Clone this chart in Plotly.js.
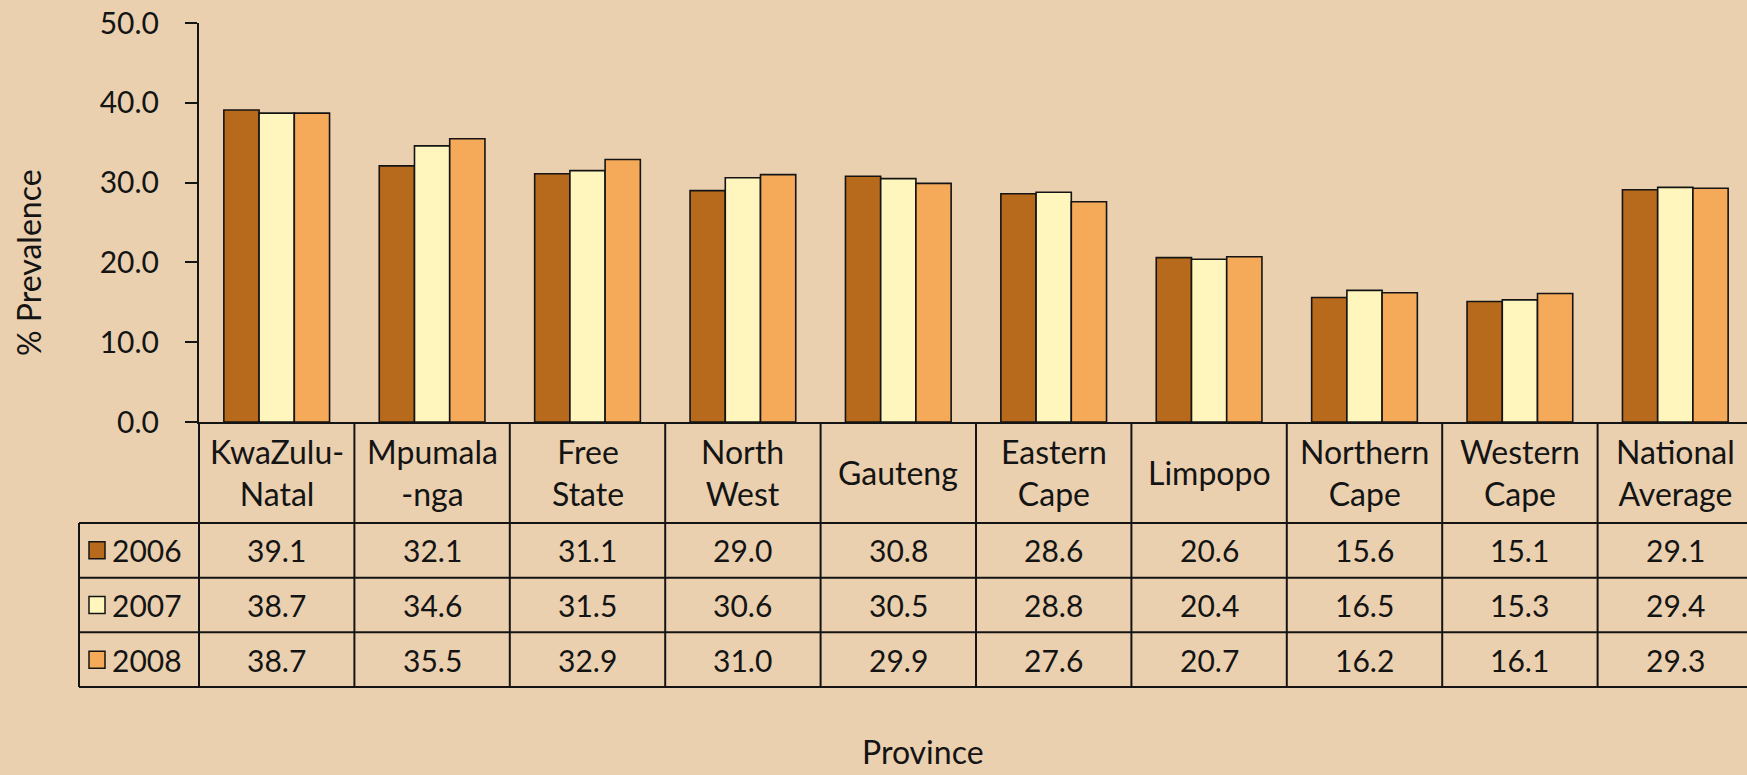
<!DOCTYPE html>
<html>
<head>
<meta charset="utf-8">
<script src="https://cdn.plot.ly/plotly-3.0.1.min.js"></script>
<style>
  html, body { margin: 0; padding: 0; overflow: hidden; background: #EAD0AF; }
  #chart { width: 1760px; height: 775px; }
</style>
</head>
<body>
<div id="chart"></div>
<script>
// ---- data ----
var categories = ["KwaZulu-Natal", "Mpumalanga", "Free State", "North West", "Gauteng",
                  "Eastern Cape", "Limpopo", "Northern Cape", "Western Cape", "National Average"];
var headerLabels = ["KwaZulu-<br>Natal", "Mpumala<br>-nga", "Free<br>State", "North<br>West", "Gauteng",
                    "Eastern<br>Cape", "Limpopo", "Northern<br>Cape", "Western<br>Cape", "National<br>Average"];
var seriesNames = ["2006", "2007", "2008"];
var values2006 = [39.1, 32.1, 31.1, 29.0, 30.8, 28.6, 20.6, 15.6, 15.1, 29.1];
var values2007 = [38.7, 34.6, 31.5, 30.6, 30.5, 28.8, 20.4, 16.5, 15.3, 29.4];
var values2008 = [38.7, 35.5, 32.9, 31.0, 29.9, 27.6, 20.7, 16.2, 16.1, 29.3];
var yTickVals = [0, 10, 20, 30, 40, 50];
var yTitle = "% Prevalence";
var xTitle = "Province";

// ---- styling ----
var seriesColors = ["#B76A1C", "#FFF6BD", "#F5AA5A"];
var bg = "#EAD0AF";
var ink = "#141414";
var fontFamily = "'Gill Sans', 'Gill Sans MT', Lato, sans-serif";
var tickFs = 30, headFs = 32, valFs = 30, titleFs = 32;

var allSeries = [values2006, values2007, values2008];
var N = categories.length;

// layout geometry (pixels)
var W = 1760, H = 775;
var mL = 199, mR = 7, mT = 23, mB = 353;
var plotH = H - mT - mB;
function py(pixY) { return ((H - mB) - pixY) / plotH; }      // pixel y -> paper y
function px(pixX) { return (pixX - mL) / (W - mL - mR); }     // pixel x -> paper x

var rowLines = [523, 577.7, 632.3, 687];
var headerCenter = (H - mB + rowLines[0]) / 2;

var traces = allSeries.map(function (vals, i) {
  return {
    type: "bar",
    name: seriesNames[i],
    x: categories,
    y: vals,
    marker: { color: seriesColors[i], line: { color: ink, width: 1.6 } },
    hoverinfo: "skip",
    showlegend: false
  };
});

var shapes = [];
var lineStyle = { color: ink, width: 2 };
for (var k = 0; k <= N; k++) {
  shapes.push({ type: "line", xref: "paper", yref: "paper",
    x0: k / N, x1: k / N, y0: 0, y1: py(rowLines[3]), line: lineStyle });
}
shapes.push({ type: "line", xref: "paper", yref: "paper",
  x0: px(79), x1: px(79), y0: py(rowLines[0]), y1: py(rowLines[3]), line: lineStyle });
rowLines.forEach(function (r) {
  shapes.push({ type: "line", xref: "paper", yref: "paper",
    x0: px(79), x1: 1, y0: py(r), y1: py(r), line: lineStyle });
});

var annotations = [];
categories.forEach(function (c, j) {
  annotations.push({ xref: "x", yref: "paper", x: c, y: py(headerCenter),
    text: headerLabels[j], showarrow: false, xanchor: "center", yanchor: "middle",
    font: { family: fontFamily, size: headFs, color: ink } });
});
allSeries.forEach(function (vals, i) {
  var rc = (rowLines[i] + rowLines[i + 1]) / 2;
  vals.forEach(function (v, j) {
    annotations.push({ xref: "x", yref: "paper", x: categories[j], y: py(rc),
      text: v.toFixed(1), showarrow: false, xanchor: "center", yanchor: "middle",
      font: { family: fontFamily, size: valFs, color: ink } });
  });
  shapes.push({ type: "rect", xref: "paper", yref: "paper",
    x0: px(89), x1: px(105), y0: py(rc - 8.5), y1: py(rc + 8.5),
    fillcolor: seriesColors[i], line: { color: ink, width: 1.5 } });
  annotations.push({ xref: "paper", yref: "paper", x: px(110), y: py(rc),
    text: seriesNames[i], showarrow: false, xanchor: "left", yanchor: "middle",
    font: { family: fontFamily, size: valFs, color: ink } });
});
annotations.push({ xref: "paper", yref: "paper", x: px(28), y: py(263),
  text: yTitle, textangle: -90, showarrow: false, xanchor: "center", yanchor: "middle",
  font: { family: fontFamily, size: titleFs, color: ink } });
annotations.push({ xref: "paper", yref: "paper", x: px(923), y: py(752),
  text: xTitle, showarrow: false, xanchor: "center", yanchor: "middle",
  font: { family: fontFamily, size: titleFs, color: ink } });

var layout = {
  width: W, height: H,
  margin: { l: mL, r: mR, t: mT, b: mB, pad: 0 },
  paper_bgcolor: bg, plot_bgcolor: bg,
  barmode: "group", bargap: 0.32, bargroupgap: 0,
  font: { family: fontFamily, size: tickFs, color: ink },
  xaxis: {
    type: "category", range: [-0.5, N - 0.5],
    showticklabels: false, ticks: "", showgrid: false, zeroline: false,
    showline: true, linecolor: ink, linewidth: 2
  },
  yaxis: {
    range: [0, 50], tickvals: yTickVals, tickformat: ".1f",
    ticks: "outside", ticklen: 12, tickwidth: 2, tickcolor: ink,
    ticklabelstandoff: 20,
    showgrid: false, zeroline: false,
    showline: true, linecolor: ink, linewidth: 2,
    tickfont: { family: fontFamily, size: tickFs, color: ink }
  },
  shapes: shapes,
  annotations: annotations
};

Plotly.newPlot("chart", traces, layout, { displayModeBar: false, staticPlot: true });
</script>
</body>
</html>
